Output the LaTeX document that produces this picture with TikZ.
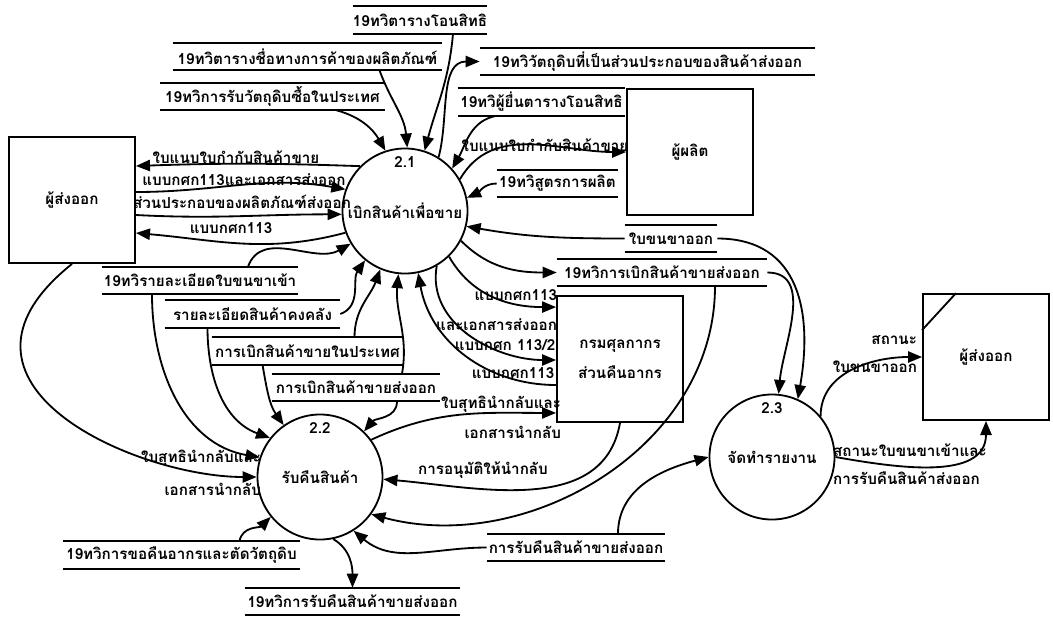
\documentclass[tikz,border=0pt]{standalone}
\usepackage{fontspec}
\newfontfamily\thaifont[Script=Thai]{Loma}
\usepackage{tikz}
\usetikzlibrary{calc}
\usetikzlibrary{arrows.meta}

\begin{document}
\begin{tikzpicture}[x=0.025cm, y=-0.025cm,
    every node/.style={font=\thaifont\bfseries\fontsize{10.8}{12}\selectfont},
    entity/.style={draw, line width=1.3pt, minimum width=3.15cm, minimum height=3.15cm, align=center},
    proc/.style={draw, circle, line width=1.3pt, minimum size=3.125cm, inner sep=0pt},
    store/.style={minimum height=0.675cm, minimum width=#1, inner xsep=0pt, inner ysep=0pt},
    flow/.style={line width=1.3pt, -{Triangle[length=10pt, width=8pt]}},
    lbl/.style={inner sep=0.5pt}]

    \useasboundingbox (0,0) rectangle (1053,620);

    % entities
    \node [entity] (exp1) at (72,200) {ผู้ส่งออก};
    \node [entity] (maker) at (690,152) {ผู้ผลิต};
    \node [entity] (customs) at (620,359) {กรมศุลกากร\\[9pt]ส่วนคืนอากร};
    \node [entity] (exp2) at (986,357) {ผู้ส่งออก};
    \draw [line width=1.3pt] ($(exp2.north west)+(0,37)$) -- ($(exp2.north west)+(34,0)$);

    % processes
    \node [proc, label={[anchor=north, yshift=-3pt]north:2.1}] (p21) at (405,211) {เบิกสินค้าเพื่อขาย};
    \node [proc, label={[anchor=north, yshift=-3pt]north:2.2}] (p22) at (320,477) {รับคืนสินค้า};
    \node [proc, label={[anchor=north, yshift=-3pt]north:2.3}] (p23) at (772,457) {จัดทำรายงาน};

    % stores
    \node [store=3.35cm] (s1) at (420,20) {19ทวิตารางโอนสิทธิ};
    \node [store=6.725cm] (s2) at (307.5,56.5) {19ทวิตารางชื่อทางการค้าของผลิตภัณฑ์};
    \node [store=5.625cm] (s3) at (272.5,96.5) {19ทวิการรับวัตถุดิบซื้อในประเทศ};
    \node [store=8.375cm] (s4) at (647.5,61.5) {19ทวิวัตถุดิบที่เป็นส่วนประกอบของสินค้าส่งออก};
    \node [store=4.175cm] (s5) at (541.5,102) {19ทวิผู้ยื่นตารางโอนสิทธิ};
    \node [store=3.025cm] (s6) at (557.5,183.5) {19ทวิสูตรการผลิต};
    \node [store=2.3cm] (s7) at (671,238.5) {ใบขนขาออก};
    \node [store=5.25cm] (s8) at (662,272.5) {19ทวิการเบิกสินค้าขายส่งออก};
    \node [store=4.9cm] (s9) at (200,280.5) {19ทวิรายละเอียดใบขนขาเข้า};
    \node [store=4.375cm] (s10) at (252.5,314) {รายละเอียดสินค้าคงคลัง};
    \node [store=4.775cm] (s11) at (307.5,351) {การเบิกสินค้าขายในประเทศ};
    \node [store=4.2cm] (s12) at (356,387.5) {การเบิกสินค้าขายส่งออก};
    \node [store=4.45cm] (s13) at (576,547.5) {การรับคืนสินค้าขายส่งออก};
    \node [store=5.925cm] (s14) at (181.5,555) {19ทวิการขอคืนอากรและตัดวัตถุดิบ};
    \node [store=5.375cm] (s15) at (352.5,601.5) {19ทวิการรับคืนสินค้าขายส่งออก};
    \foreach \i in {1,...,15}
        \draw [line width=1.3pt] (s\i.north west) -- (s\i.north east) (s\i.south west) -- (s\i.south east);

    % labels
    \node [lbl] (l1) at (236,157) {ใบแนบใบกำกับสินค้าขาย};
    \node [lbl] (l2) at (244,180) {แบบกศก113และเอกสารส่งออก};
    \node [lbl] (l3) at (242,202) {ส่วนประกอบของผลิตภัณฑ์ส่งออก};
    \node [lbl] (l4) at (231,228) {แบบกศก113};
    \node [lbl] (l5) at (545,145) {ใบแนบใบกำกับสินค้าขาย};
    \node [lbl, align=right, anchor=east] (l6) at (558,310) {แบบกศก113\\[9.3pt]และเอกสารส่งออก};
    \node [lbl] (l7) at (505,345) {แบบกศก 113/2};
    \node [lbl] (l8) at (513,373) {แบบกศก113};
    \node [lbl, align=right, anchor=east] (l9) at (562,417) {ใบสุทธินำกลับและ\\[9.3pt]เอกสารนำกลับ};
    \node [lbl] (l10) at (483,470) {การอนุมัติให้นำกลับ};
    \node [lbl, align=right, anchor=east] (l11) at (262,473) {ใบสุทธินำกลับและ\\[11.5pt]เอกสารนำกลับ};
    \node [lbl, align=right, anchor=east] (l12) at (918,354) {สถานะ\\[7.9pt]ใบขนขาออก};
    \node [lbl, align=left] (l13) at (910,464) {สถานะใบขนขาเข้าและ\\[7.9pt]การรับคืนสินค้าส่งออก};

    % 2.1
    \draw [flow] ($(s1.south)+(33,0)$) to[out=-95, in=75] (p21.72);
    \draw [flow] ($(s2.south)+(72,0)$) to[out=-70, in=95] (p21.88);
    \draw [flow] ($(s3.south)+(64,0)$) to[out=-15, in=120] (p21.108);
    \draw [flow] (p21.58) to[out=75, in=180] (s4.west);
    \draw [flow] ($(s5.south west)+(39,0)$) to[out=190, in=60] (p21.42);
    \draw [flow] (p21.30) to[out=60, in=180] (maker.west);
    \draw [flow] (s6.west) to[out=180, in=25] (p21.12);
    \draw [flow] (s7.west) to[out=180, in=-10] (p21.-14);
    \draw [flow] (p21.-28) to[out=-45, in=180] (s8.west);
    \draw [flow] (p21.-46) to[out=-60, in=180] ($(customs.north west)+(0,12)$);
    \draw [flow] (p21.-60) to[out=-100, in=180] ($(customs.west)+(0,1)$);
    \draw [flow] ($(customs.west)+(0,26)$) to[out=180, in=-80] (p21.-78);
    \draw [flow] ($(s9.north)+(48,0)$) to[out=70, in=-150] (p21.-149);
    \draw [flow] (s10.east) to[out=20, in=-125] (p21.-129);
    \draw [flow] ($(s11.north)+(47,0)$) to[out=90, in=-110] (p21.-113);
    \draw [flow] ($(s12.north)+(46,0)$) to[out=80, in=-95] (p21.-96);
    \draw [flow] (p21.135) to[out=178, in=2] ($(exp1.east)+(0,-34)$);
    \draw [flow] ($(exp1.east)+(0,-8)$) to[out=0, in=170] (p21.160);
    \draw [flow] ($(exp1.east)+(0,15)$) to[out=-3, in=180] (p21.183);
    \draw [flow] (p21.200) to[out=195, in=-5] ($(exp1.east)+(0,33)$);

    % 2.2
    \draw [flow] ($(s12.south)+(41,0)$) to[out=-90, in=50] (p22.46);
    \draw [flow] (p22.36) to[out=25, in=180] ($(customs.south west)+(0,-10)$);
    \draw [flow] (customs.south) to[out=-100, in=-5] (p22.-2);
    \draw [flow] ($(s8.south)+(53,0)$) to[out=-90, in=-15] (p22.-36);
    \draw [flow] (s13.west) to[out=180, in=-40] (p22.-58);
    \draw [flow] (p22.-78) to[out=-30, in=90] (s15.north);
    \draw [flow] ($(s14.north)+(58,0)$) to[out=80, in=-135] (p22.-141);
    \draw [flow] ($(s11.south)+(-45,0)$) to[out=-80, in=125] (p22.125);
    \draw [flow] ($(s10.south)+(-45,0)$) to[out=-90, in=160] (p22.142);
    \draw [flow] ($(s9.south)+(-48,0)$) to[out=-90, in=170] (p22.162);
    \draw [flow] (exp1.south) .. controls +(-150,120) and +(-120,0) .. (p22.180);

    % 2.3
    \draw [flow] (s7.east) to[out=0, in=80, looseness=1.2] (p23.66);
    \draw [flow] (s8.east) to[out=0, in=85] (p23.84);
    \draw [flow] ($(s13.north)+(42,0)$) to[out=90, in=195] (p23.180);
    \draw [flow] (p23.40) to[out=90, in=180] (exp2.west);
    \draw [flow] (p23.0) to[out=-10, in=-90] (exp2.south);

\end{tikzpicture}
\end{document}
